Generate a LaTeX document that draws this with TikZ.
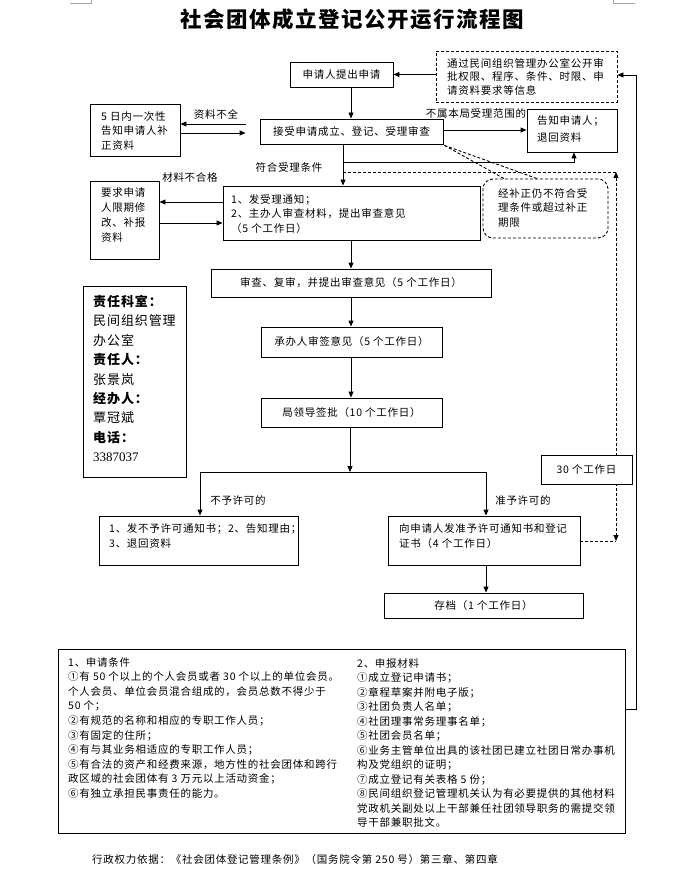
\documentclass[tikz,border=0pt]{standalone}
\usepackage{fontspec}
\setmainfont{Noto Sans CJK SC}[LetterSpace=7]
\newfontfamily\serifnum{Liberation Serif}
\usetikzlibrary{arrows.meta}
\newcommand\fs{\fontsize{10.5}{14.5}\selectfont}
\begin{document}
\begin{tikzpicture}[x=1pt,y=-1pt,
  box/.style={draw, line width=0.9pt, inner sep=0pt, fill=white},
  dbox/.style={box, dash pattern=on 3pt off 2pt},
  txt/.style={inner sep=0pt, align=left, anchor=north west},
  lbl/.style={inner sep=0pt, font=\fs},
  arr/.style={-{Triangle[length=6pt,width=5pt]}, line width=0.9pt},
  ln/.style={line width=0.9pt},
  dl/.style={line width=0.9pt, dash pattern=on 3pt off 2pt},
  cornermark/.style={draw=black!35, line width=0.6pt}]
\useasboundingbox (0,0) rectangle (680,877);
\fill[white] (0,0) rectangle (680,877);

% page corner marks
\draw[cornermark] (70,3) -- (91,3) -- (91,0);
\draw[cornermark] (613,0) -- (613,3) -- (635,3);

% helper coordinates
\coordinate (c343) at (343,0);
\coordinate (c350) at (350,0);
\coordinate (c351) at (351,0);
\coordinate (c504) at (504,0);
\coordinate (c537) at (537,0);
\coordinate (c574) at (574,0);
\coordinate (c616) at (616,0);
\coordinate (y124) at (0,124);
\coordinate (y130) at (0,130);
\coordinate (y133) at (0,133);
\coordinate (y162) at (0,162);
\coordinate (y172) at (0,172);
\coordinate (y202) at (0,202);
\coordinate (y223) at (0,223);
\coordinate (y541) at (0,541);
\coordinate (rb) at (636,709);
\coordinate (rt) at (636,75);
\coordinate (bl) at (200,472);
\coordinate (bm) at (350,472);
\coordinate (br) at (486,472);

% title
\node[inner sep=0pt, font=\fontsize{21.5}{25}\selectfont\bfseries] (title) at (352,19) {社会团体成立登记公开运行流程图};

% boxes
\node[box, minimum width=103pt, minimum height=25pt, font=\fs] (A) at (341.5,74.5) {申请人提出申请};
\node[dbox, minimum width=181pt, minimum height=51pt] (B) at (526.5,76.5) {};
\node[txt, font=\fontsize{10.5}{13.5}\selectfont] (Bt) at (447,58) {通过民间组织管理办公室公开审\\批权限、程序、条件、时限、申\\请资料要求等信息};

\node[box, minimum width=90pt, minimum height=52pt] (C) at (135,130) {};
\node[txt, font=\fs] (Ct) at (101,111) {5 日内一次性\\告知申请人补\\正资料};

\node[box, minimum width=183pt, minimum height=25pt, font=\fs] (D) at (351.5,131.5) {接受申请成立、登记、受理审查};

\node[box, minimum width=90pt, minimum height=43pt] (E) at (572,130.5) {};
\node[txt, font=\fontsize{10.5}{17}\selectfont] (Et) at (537,115) {告知申请人；\\退回资料};

\node[box, minimum width=257pt, minimum height=54pt] (F) at (351.5,213) {};
\node[txt, font=\fs] (Ft) at (231,194) {1、发受理通知；\\2、主办人审查材料，提出审查意见\\（5 个工作日）};

\node[box, minimum width=69pt, minimum height=78pt] (H) at (124.5,220) {};
\node[txt, font=\fontsize{10.5}{15}\selectfont] (Ht) at (101,187) {要求申请\\人限期修\\改、补报\\资料};

\node[box, minimum width=280pt, minimum height=28pt, font=\fs] (I) at (351,283) {审查、复审，并提出审查意见（5 个工作日）};
\node[box, minimum width=181pt, minimum height=30pt, font=\fs] (J) at (351.5,342) {承办人审签意见（5 个工作日）};
\node[box, minimum width=181pt, minimum height=29pt, font=\fs] (K) at (351.5,412.5) {局领导签批（10 个工作日）};

\node[box, minimum width=199pt, minimum height=49pt] (L) at (198.5,540.5) {};
\node[txt, font=\fontsize{10.5}{15}\selectfont] (Lt) at (109,523) {1、发不予许可通知书；2、告知理由；\\3、退回资料};

\node[box, minimum width=192pt, minimum height=49pt] (M) at (484,540.5) {};
\node[txt, font=\fontsize{10.5}{15}\selectfont] (Mt) at (399,523) {向申请人发准予许可通知书和登记\\证书（4 个工作日）};

\node[box, minimum width=199pt, minimum height=25pt, font=\fs] (N) at (483.5,605.5) {存档（1 个工作日）};

% info box
\node[box, minimum width=103pt, minimum height=191pt] (O) at (134.5,381.5) {};
\node[txt, font=\fontsize{13}{19.4}\selectfont] (Ot) at (93,295) {\textbf{责任科室：}\\民间组织管理\\办公室\\\textbf{责任人：}\\张景岚\\\textbf{经办人：}\\覃冠斌\\\textbf{电话：}\\{\serifnum 3387037}};

% bottom box
\node[box, minimum width=567pt, minimum height=184pt] (P) at (341.5,741) {};
\node[txt, font=\fontsize{10.5}{14.6}\selectfont] (Pl) at (68,657) {1、申请条件\\①有 50 个以上的个人会员或者 30 个以上的单位会员。\\个人会员、单位会员混合组成的，会员总数不得少于\\50 个；\\②有规范的名称和相应的专职工作人员；\\③有固定的住所；\\④有与其业务相适应的专职工作人员；\\⑤有合法的资产和经费来源，地方性的社会团体和跨行\\政区域的社会团体有 3 万元以上活动资金；\\⑥有独立承担民事责任的能力。};
\node[txt, font=\fontsize{10.5}{14.5}\selectfont] (Pr) at (357,658) {2、申报材料\\①成立登记申请书；\\②章程草案并附电子版；\\③社团负责人名单；\\④社团理事常务理事名单；\\⑤社团会员名单；\\⑥业务主管单位出具的该社团已建立社团日常办事机\\构及党组织的证明；\\⑦成立登记有关表格 5 份；\\⑧民间组织登记管理机关认为有必要提供的其他材料\\党政机关副处以上干部兼任社团领导职务的需提交领\\导干部兼职批文。};

% footer
\node[inner sep=0pt, anchor=west, font=\fs] (foot) at (92,859) {行政权力依据：《社会团体登记管理条例》（国务院令第 250 号）第三章、第四章};

% labels
\node[lbl] (l1) at (216,114) {资料不全};
\node[lbl] (l2) at (476,113) {不属本局受理范围的};
\node[lbl] (l3) at (289,167) {符合受理条件};
\node[lbl] (l4) at (190,178) {材料不合格};
\node[lbl] (l5) at (238,500) {不予许可的};
\node[lbl] (l6) at (523,500) {准予许可的};

% connectors
\draw[arr] (B.west |- A.east) -- (A.east);
\draw[arr] (P.east |- rb) -- (rb) -- (rt) -- (B.east |- rt);
\draw[arr] (A.south -| c351) -- (D.north -| c351);
\draw[arr, shorten <=14pt] (D.west |- y124) -- (C.east |- y124);
\draw[arr, shorten >=14pt] (C.east |- y133) -- (D.west |- y133);
\draw[arr] (D.east |- y130) -- (E.west |- y130);
\draw[arr] (D.south -| c343) -- (F.north -| c343);
\draw[arr] (c343 |- y162) -| (E.south -| c574);
\draw[dl] (c343 |- y172) -- (c616 |- y172);
\draw[dl, {Triangle[length=6pt,width=5pt]}-{Triangle[length=6pt,width=5pt]}] (c616 |- y172) -- (c616 |- y541);
\draw[dl] (M.east |- y541) -- (c616 |- y541);
\draw[arr] (F.west |- y202) -- (H.east |- y202);
\draw[arr] (H.east |- y223) -- (F.west |- y223);
\draw[arr] (F.south -| c351) -- (I.north -| c351);
\draw[arr] (I.south -| c351) -- (J.north -| c351);
\draw[arr] (J.south -| c351) -- (K.north -| c351);
\draw[arr] (K.south -| c350) -- (bm);
\draw[ln] (bl) -- (br);
\draw[arr] (bl) -- (L.north -| bl);
\draw[arr] (br) -- (M.north -| br);
\draw[arr] (M.south -| br) -- (N.north -| br);

% 30 working days box on dashed line
\node[box, minimum width=91pt, minimum height=29pt, font=\fs] (T30) at (586.5,469.5) {30 个工作日};

% dashed rounded callout
\node[box, rounded corners=10pt, dash pattern=on 3pt off 2pt, minimum width=125pt, minimum height=59pt] (G) at (545.5,208.5) {};
\node[txt, font=\fontsize{10.5}{14.5}\selectfont] (Gt) at (498,188) {经补正仍不符合受\\理条件或超过补正\\期限};
\draw[dl] ([shift={(1,1)}]D.south east) -- (G.north -| c504);
\draw[dl] ([shift={(1,1)}]D.south east) -- (G.north -| c537);
\end{tikzpicture}
\end{document}
